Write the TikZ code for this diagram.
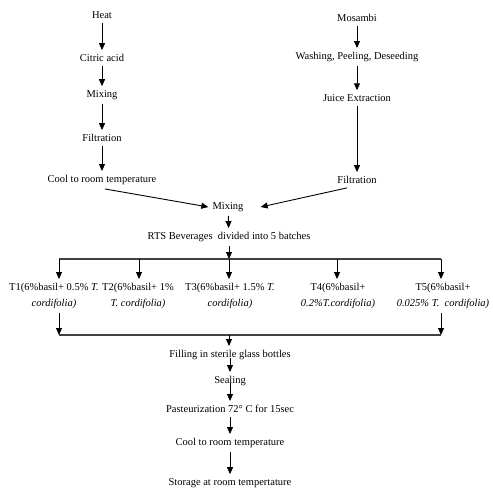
\documentclass[tikz,border=0pt]{standalone}
\usepackage{fontspec}
\setmainfont{Liberation Serif}
\usetikzlibrary{positioning,arrows.meta}
\tikzset{
	stage/.style={inner sep=4pt, font=\fontsize{10.5}{16}\selectfont, align=center},
	flow/.style={line width=0.9pt, -{Triangle[width=6pt,length=7pt]}},
	bus/.style={line width=1.2pt, black!75}
}

\begin{document}
\begin{tikzpicture}[x=1pt, y=-1pt]
	\useasboundingbox (0,0) rectangle (492,500);

	\node[stage] (heat) at (102,15) {Heat};
	\node[stage] (citric) at (102,58) {Citric acid};
	\node[stage] (mixa) at (102,95) {Mixing};
	\node[stage] (filta) at (102,138) {Filtration};
	\node[stage] (coola) at (102,180) {Cool to room temperature};

	\node[stage] (mosambi) at (357,18) {Mosambi};
	\node[stage] (wash) at (357,57) {Washing, Peeling, Deseeding};
	\node[stage] (juice) at (357,98) {Juice Extraction};
	\node[stage] (filtb) at (357,180) {Filtration};

	\node[stage] (mix) at (228,207) {Mixing};
	\node[stage] (rts) at (229,237) {RTS Beverages\ \ divided into 5 batches};

	\coordinate (c1) at (59,259);
	\coordinate (c2) at (139,259);
	\coordinate (c3) at (229,259);
	\coordinate (c4) at (337,259);
	\coordinate (c5) at (441,259);

	\node[stage] (t1) at (54,296) {T1(6\%basil+ 0.5\% \textit{T.}\\ \textit{cordifolia)}};
	\node[stage] (t2) at (138,296) {T2(6\%basil+ 1\%\\ \textit{T. cordifolia)}};
	\node[stage] (t3) at (230,296) {T3(6\%basil+ 1.5\% \textit{T.}\\ \textit{cordifolia)}};
	\node[stage] (t4) at (338,296) {T4(6\%basil+\\ \textit{0.2\%T.cordifolia)}};
	\node[stage] (t5) at (443,296) {T5(6\%basil+\\ \textit{0.025\% T.\ \ cordifolia)}};

	\coordinate (d1) at (59,335);
	\coordinate (d3) at (229,335);
	\coordinate (d5) at (441,335);

	\node[stage] (fill) at (230,355) {Filling in sterile glass bottles};
	\node[stage] (seal) at (230,381) {Sealing};
	\node[stage] (past) at (230,409) {Pasteurization 72\textdegree\ C for 15sec};
	\node[stage] (coolb) at (230,443) {Cool to room temperature};
	\node[stage] (store) at (230,483) {Storage at room tempertature};

	\draw[flow] (heat) -- (citric);
	\draw[flow] (citric) -- (mixa);
	\draw[flow] (mixa) -- (filta);
	\draw[flow] (filta) -- (coola);
	\draw[flow] (mosambi) -- (wash);
	\draw[flow] (wash) -- (juice);
	\draw[flow] (juice) -- (filtb);
	\draw[flow] ([xshift=3pt]coola.south) -- (mix.west);
	\draw[flow] ([xshift=-10pt]filtb.south) -- ([xshift=13pt]mix.east);
	\draw[flow] (mix) -- (rts);

	\draw[flow] (rts.south -| c3) -- (c3);
	\draw[bus] (c1) -- (c5);
	\foreach \i in {1,...,5}
		\draw[flow] (c\i) -- (c\i |- t\i.north);

	\draw[flow] (t1.south -| d1) -- (d1);
	\draw[flow] (t5.south -| d5) -- (d5);
	\draw[bus] (d1) -- (d5);
	\draw[flow] (d3) -- (d3 |- fill.north);

	\draw[flow] ([yshift=-3pt]fill.center) -- (seal.north);
	\draw[flow] ([yshift=-2pt]seal.center) -- (past.north);
	\draw[flow] (past) -- (coolb);
	\draw[flow] (coolb) -- (store);
\end{tikzpicture}
\end{document}
